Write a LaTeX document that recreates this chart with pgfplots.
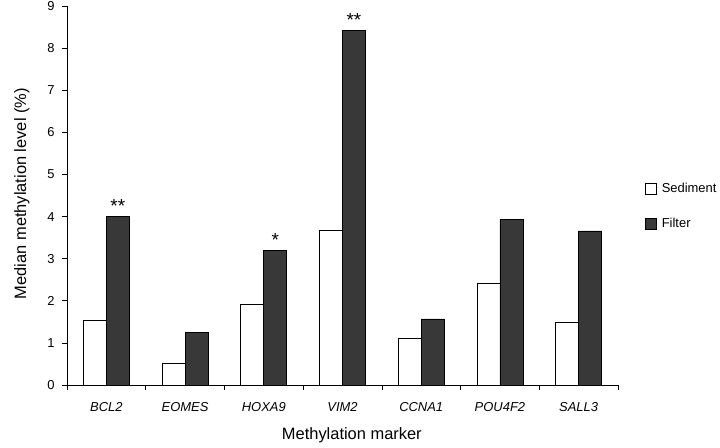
\documentclass[border=0pt]{standalone}
\usepackage{pgfplots}
\pgfplotsset{compat=1.18}
\usepackage{fontspec}
\setmainfont{Liberation Sans}
\definecolor{filt}{HTML}{383838}
\begin{document}
\begin{tikzpicture}
\useasboundingbox (0,0) rectangle (720bp,448bp);
\begin{axis}[
  at={(67bp,63bp)}, anchor=south west,
  scale only axis, width=551bp, height=379bp,
  ybar=0pt, bar width=23bp,
  xmin=-0.5, xmax=6.5, ymin=0, ymax=9,
  xtick={0,...,6},
  xticklabels={\textit{BCL2},\textit{EOMES},\textit{HOXA9},\textit{VIM2},\textit{CCNA1},\textit{POU4F2},\textit{SALL3}},
  major x tick style={draw=none},
  minor xtick={-0.5,0.5,...,6.5},
  minor tick length=5bp,
  ytick={0,...,9},
  major tick length=5bp,
  tick align=outside,
  axis x line*=bottom, axis y line*=left,
  axis line style={black, line width=0.7pt},
  every tick/.style={black, line width=0.7pt},
  tick label style={font=\fontsize{13}{15}\selectfont},
  xticklabel style={yshift=-9bp},
  yticklabel style={xshift=-4bp},
  /pgf/number format/assume math mode=true,
  xlabel={Methylation marker},
  ylabel={Median methylation level (\%)},
  label style={font=\fontsize{16.5}{19}\selectfont},
  xlabel style={at={(axis description cs:0.517,-0.132)}, anchor=center},
  ylabel style={at={(axis description cs:-0.082,0.505)}, anchor=center},
  legend style={draw=none, fill=none, at={(axis description cs:1.049,0.472)}, anchor=west,
    font=\fontsize{13}{15}\selectfont, row sep=20bp, inner xsep=0pt,
    nodes={inner xsep=5bp}},
  legend cell align=left,
  legend image code/.code={\draw[#1, line width=0.6pt] (0bp,-5.5bp) rectangle (11bp,5.5bp);},
  nodes near coords style={font=\fontsize{19}{20}\selectfont, yshift=0bp},
]
\addplot[draw=black, fill=white, line width=0.6pt] coordinates {
  (0,1.53) (1,0.52) (2,1.92) (3,3.68) (4,1.12) (5,2.42) (6,1.49)};
\addlegendentry{Sediment}
\addplot[draw=black, fill=filt, line width=0.6pt,
  point meta=explicit symbolic, nodes near coords] coordinates {
  (0,4.00) [**] (1,1.25) [] (2,3.20) [*] (3,8.43) [**] (4,1.57) [] (5,3.94) [] (6,3.66) []};
\addlegendentry{Filter}
\end{axis}
\end{tikzpicture}
\end{document}
